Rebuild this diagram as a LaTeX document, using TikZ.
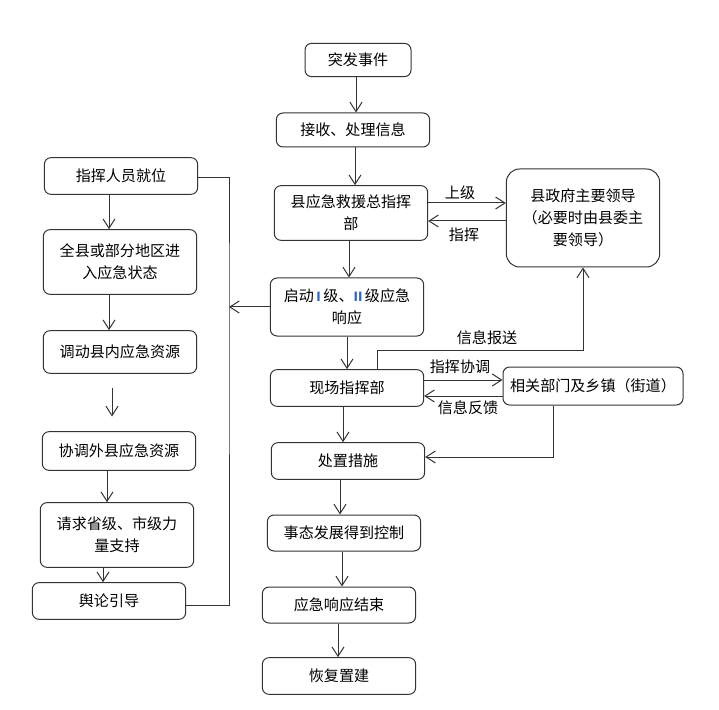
\documentclass[tikz,border=0pt]{standalone}
\usepackage{fontspec}
\setmainfont{Noto Sans CJK SC}
\usetikzlibrary{arrows.meta}

\definecolor{numblue}{RGB}{45,100,200}
\tikzset{
  blk/.style={draw=black!80, line width=0.75pt, rounded corners=5pt,
    minimum width=115pt, minimum height=27.5pt, align=center, inner sep=1pt,
    font=\fontsize{11.3}{16.5}\selectfont},
  lbl/.style={font=\fontsize{11.3}{16.5}\selectfont, inner sep=1pt},
  ln/.style={draw=black!80, line width=0.75pt},
  arr/.style={ln, -{Straight Barb[length=7pt,width=9pt]}}
}
\newcommand{\rnum}[1]{{\color{numblue}\fontsize{9.5}{9.5}\selectfont\bfseries #1}}

\begin{document}
\begin{tikzpicture}[x=0.75pt,y=-0.75pt]
  \useasboundingbox (0,0) rectangle (719,710);
  % Main column
  \node[blk, minimum width=79.5pt, minimum height=25pt] (sudden) at (358,60) {突发事件};
  \node[blk, minimum height=25.5pt] (recv) at (353,130) {接收、处理信息};
  \node[blk, minimum height=41pt] (cmd) at (351,213) {县应急救援总指挥\\部};
  \node[blk, minimum height=43.5pt] (start) at (347,307) {启动\,\rnum{I}\,级、\rnum{II}\,级应急\\响应};
  \node[blk] (site) at (347,388) {现场指挥部};
  \node[blk] (handle) at (348,461) {处置措施};
  \node[blk, minimum height=27pt] (ctrl) at (344,533) {事态发展得到控制};
  \node[blk, minimum height=27pt] (over) at (339,605) {应急响应结束};
  \node[blk] (rebuild) at (339,676) {恢复置建};
  % Right side
  \node[blk, rounded corners=10pt, minimum height=73.5pt] (gov) at (583,218)
    {县政府主要领导\\（必要时由县委主\\要领导）};
  \node[blk, minimum width=135pt, minimum height=28.5pt] (rel) at (593,386) {相关部门及乡镇（街道）};
  % Left column
  \node[blk] (l1) at (121,176) {指挥人员就位};
  \node[blk, minimum height=48.5pt] (l2) at (120,262) {全县或部分地区进\\入应急状态};
  \node[blk, minimum height=32pt] (l3) at (120,352) {调动县内应急资源};
  \node[blk, minimum height=29pt] (l4) at (119,451) {协调外县应急资源};
  \node[blk, minimum height=48.5pt] (l5) at (117,535) {请求省级、市级力\\量支持};
  \node[blk] (l6) at (109,601) {舆论引导};
  \coordinate (rail) at (229,307);

  % Main flow arrows
  \draw[arr] ([xshift=-1.5pt]sudden.south) -- ([xshift=-1.5pt]sudden.south |- recv.north);
  \draw[arr] ([xshift=1.5pt]recv.south) -- ([xshift=1.5pt]recv.south |- cmd.north);
  \draw[arr] ([xshift=-1.5pt]cmd.south) -- ([xshift=-1.5pt]cmd.south |- start.north);
  \draw[arr] (start.south) -- (start.south |- site.north);
  \draw[arr] ([xshift=-3pt]site.south) -- ([xshift=-3pt]site.south |- handle.north);
  \draw[arr] ([xshift=-6pt]handle.south) -- ([xshift=-6pt]handle.south |- ctrl.north);
  \draw[arr] ([xshift=-1.5pt]ctrl.south) -- ([xshift=-1.5pt]ctrl.south |- over.north);
  \draw[arr] ([xshift=-0.75pt]over.south) -- ([xshift=-0.75pt]over.south |- rebuild.north);

  % Command <-> county government
  \draw[arr] ([yshift=7.5pt]cmd.east) -- ([yshift=7.5pt]cmd.east -| gov.west);
  \draw[arr] ([yshift=-6pt]cmd.east -| gov.west) -- ([yshift=-6pt]cmd.east);
  \node[lbl] (up) at (460,193) {上级};
  \node[lbl] (down) at (464,235) {指挥};

  % Site <-> departments, report upward
  \draw[arr] ([xshift=22.5pt]site.north) -- ++(0,-19) -| (gov.south);
  \node[lbl] (report) at (487,338) {信息报送};
  \draw[arr] ([yshift=6pt]site.east) -- ([yshift=6pt]site.east -| rel.west);
  \draw[arr] ([yshift=-6pt]site.east -| rel.west) -- ([yshift=-6pt]site.east);
  \node[lbl] (coord) at (460,367) {指挥协调};
  \node[lbl] (feedback) at (468,408) {信息反馈};
  \draw[arr] ([xshift=-30pt]rel.south) |- ([yshift=3pt]handle.east);

  % Left column
  \draw[arr] ([xshift=-9pt]l1.south) -- ([xshift=-9pt]l1.south |- l2.north);
  \draw[arr] ([xshift=-8.25pt]l2.south) -- ([xshift=-8.25pt]l2.south |- l3.north);
  \draw[arr, shorten <=10.5pt, shorten >=11pt] ([xshift=-6pt]l3.south) -- ([xshift=-6pt]l3.south |- l4.north);
  \draw[arr] ([xshift=-9pt]l4.south) -- ([xshift=-9pt]l4.south |- l5.north);
  \draw[arr] ([xshift=-10.5pt]l5.south) -- ([xshift=-10.5pt]l5.south |- l6.north);
  % Bracket and link from start
  \draw[ln] ([yshift=-1.5pt]l1.east) -| (rail) |- ([yshift=-3pt]l6.east);
  \draw[arr] (start.west) -- (rail);
\end{tikzpicture}
\end{document}
